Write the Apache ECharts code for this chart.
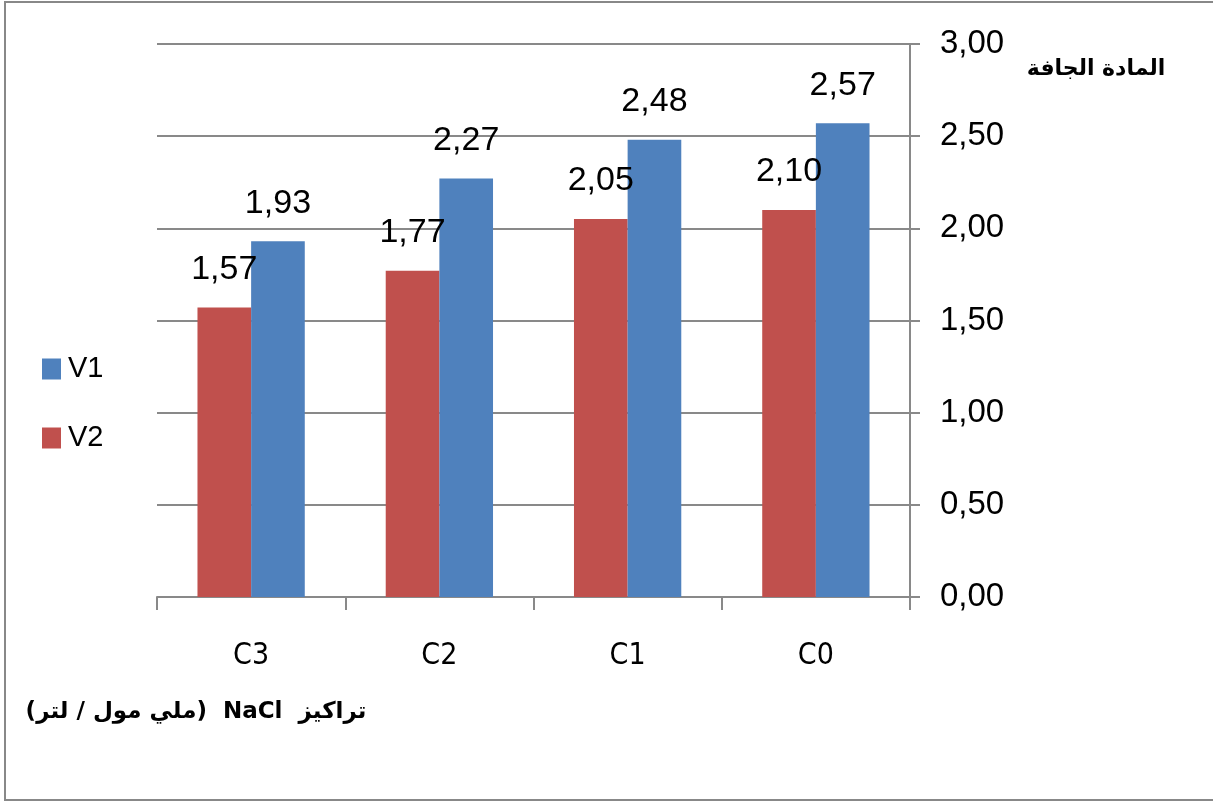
<!DOCTYPE html>
<html>
<head>
<meta charset="utf-8">
<script src="https://cdn.jsdelivr.net/npm/echarts@6/dist/echarts.min.js"></script>
<style>
  html, body { margin: 0; padding: 0; background: #fff; }
  #chart { width: 1213px; height: 803px; }
</style>
</head>
<body>
<div id="chart"></div>
<script>
// NaCl concentration levels, drawn right-to-left (C0 on the right)
const categories = ['C3', 'C2', 'C1', 'C0'];
// Dry matter per variety
const v1Values = [1.93, 2.27, 2.48, 2.57];
const v2Values = [1.57, 1.77, 2.05, 2.10];

const yAxisTitle = 'المادة الجافة';
const xAxisTitle = '\u202Bتراكيز  NaCl  (ملي مول / لتر)\u202C';

const SANS = "'Liberation Sans', Arial, sans-serif";
const COND = "'DejaVu Sans Condensed', 'Liberation Sans', sans-serif";
const ARABIC = "'DejaVu Sans', 'Noto Sans', sans-serif";
const fmt = v => v.toFixed(2).replace('.', ',');

const chart = echarts.init(document.getElementById('chart'), null, { renderer: 'canvas' });

const valueLabel = {
  show: true,
  position: 'top',
  distance: 21,
  fontFamily: SANS,
  fontSize: 34,
  lineHeight: 34,
  color: '#000',
  formatter: p => fmt(p.value)
};

chart.setOption({
  animation: false,
  backgroundColor: '#fff',
  grid: { left: 157, right: 303, top: 44, bottom: 206, containLabel: false },
  legend: {
    orient: 'vertical',
    left: 42,
    top: 354,
    padding: 0,
    data: ['V1', 'V2'],
    itemWidth: 19,
    itemHeight: 21,
    itemGap: 39,
    icon: 'rect',
    textStyle: { fontFamily: SANS, fontSize: 29, lineHeight: 30, color: '#000', padding: [0, 0, 0, 2] }
  },
  xAxis: {
    type: 'category',
    data: categories,
    axisLine: { show: true, lineStyle: { color: '#898989', width: 2 } },
    axisTick: { show: true, length: 13, lineStyle: { color: '#898989', width: 2 } },
    axisLabel: { margin: 44, fontFamily: COND, fontSize: 30, lineHeight: 30, color: '#000' },
    splitLine: { show: false }
  },
  yAxis: {
    type: 'value',
    position: 'right',
    min: 0,
    max: 3,
    interval: 0.5,
    axisLine: { show: true, lineStyle: { color: '#898989', width: 2 } },
    axisTick: { show: true, inside: false, length: 10, lineStyle: { color: '#898989', width: 2 } },
    axisLabel: { margin: 30, fontFamily: SANS, fontSize: 33, lineHeight: 33, color: '#000', formatter: fmt },
    splitLine: { show: true, lineStyle: { color: '#898989', width: 2 } }
  },
  series: [
    {
      name: 'V2',
      type: 'bar',
      data: v2Values,
      barGap: '0%',
      barCategoryGap: '43%',
      itemStyle: { color: '#C0504D' },
      label: valueLabel
    },
    {
      name: 'V1',
      type: 'bar',
      data: v1Values,
      barGap: '0%',
      barCategoryGap: '43%',
      itemStyle: { color: '#4F81BD' },
      label: valueLabel
    }
  ],
  graphic: [
    {
      type: 'rect',
      shape: { x: 5, y: 2, width: 1230, height: 798 },
      style: { fill: 'none', stroke: '#888', lineWidth: 2 },
      silent: true,
      z: 100
    },
    {
      type: 'text',
      x: 1096, y: 69,
      style: {
        text: yAxisTitle,
        fontFamily: ARABIC, fontWeight: 'bold', fontSize: 22,
        fill: '#000', align: 'center', verticalAlign: 'middle'
      }
    },
    {
      type: 'text',
      x: 196, y: 712,
      style: {
        text: xAxisTitle,
        fontFamily: ARABIC, fontWeight: 'bold', fontSize: 23,
        fill: '#000', align: 'center', verticalAlign: 'middle'
      }
    }
  ]
});
</script>
</body>
</html>
